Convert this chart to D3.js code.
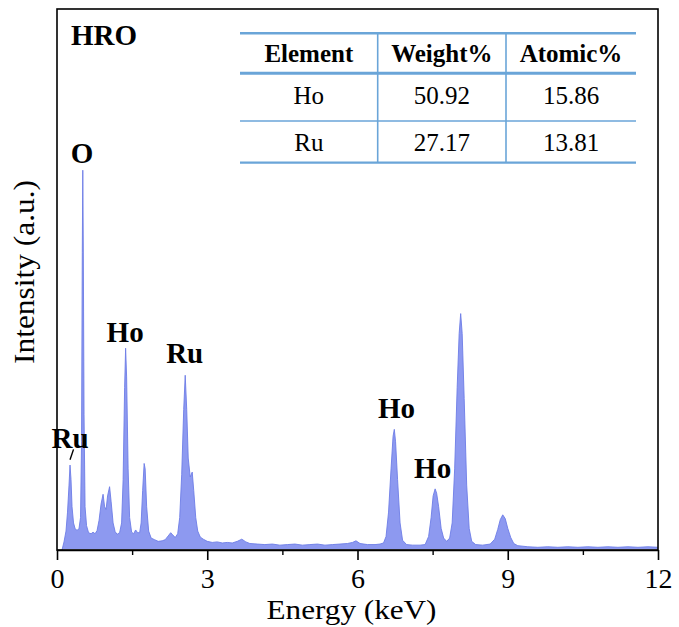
<!DOCTYPE html>
<html>
<head>
<meta charset="utf-8">
<script src="https://cdn.jsdelivr.net/npm/d3@7/dist/d3.min.js"></script>
<style>
  html,body{margin:0;padding:0;background:#fff;}
  svg{display:block;}
</style>
</head>
<body>
<svg id="chart" width="679" height="627"></svg>
<script>
// ---- Data ----
const energy = [0.10,0.14,0.18,0.21,0.24,0.26,0.28,0.30,0.33,0.36,0.40,0.44,0.47,0.49,0.505,0.515,0.525,0.54,0.56,0.59,
  0.63,0.68,0.72,0.76,0.80,0.84,0.88,0.92,0.95,0.98,1.01,1.05,1.08,1.12,1.16,1.20,1.25,1.29,1.32,1.35,
  1.37,1.39,1.42,1.45,1.49,1.53,1.57,1.61,1.65,1.68,1.71,1.74,1.76,1.79,1.83,1.88,1.95,2.02,2.10,2.16,
  2.22,2.27,2.31,2.36,2.41,2.45,2.49,2.53,2.56,2.59,2.62,2.66,2.70,2.73,2.77,2.81,2.86,2.92,3.00,3.10,
  3.20,3.30,3.40,3.50,3.60,3.69,3.77,3.85,4.00,4.15,4.30,4.45,4.60,4.75,4.90,5.05,5.20,5.35,5.50,5.65,
  5.80,5.90,5.97,6.05,6.20,6.35,6.45,6.52,6.57,6.62,6.67,6.71,6.735,6.76,6.80,6.85,6.90,6.98,7.10,7.25,
  7.35,7.42,7.47,7.51,7.55,7.58,7.62,7.67,7.72,7.78,7.84,7.89,7.94,7.99,8.03,8.06,8.09,8.13,8.18,8.23,
  8.28,8.36,8.50,8.65,8.74,8.80,8.85,8.90,8.95,9.00,9.06,9.12,9.20,9.40,9.60,9.80,10.0,10.2,10.4,10.6,
  10.8,11.0,11.2,11.4,11.6,11.8,12.0];
const intensity = [0,1.5,3.5,7,12,15.7,13,8,5,4,3.6,4.0,6,20,55,70.2,56,25,8,4.5,
  3.2,3.0,3.3,3.0,3.6,5.5,8.5,10.3,8,7.5,10,11.7,9,5,3.4,2.9,3.2,5,13,30,
  37.3,32,15,6,3.3,3.0,3.7,3.2,3.2,5,11,16,15,8,3.5,2.2,1.9,1.6,1.7,1.9,
  2.6,3.2,2.8,2.3,3.0,6,14,26,32.3,26,17,13.5,14.4,11,6,3.5,2.4,2.0,1.6,1.4,
  1.5,1.3,1.4,1.3,1.6,2.0,1.5,1.2,1.1,1.0,1.1,0.9,1.0,1.1,0.9,1.0,1.1,0.9,1.0,1.1,
  1.2,1.4,1.7,1.2,1.0,1.0,1.1,1.3,2.5,7,15,21,22.3,20,13,5,1.8,1.0,0.9,0.9,
  1.0,2.5,6,10,11.3,10.5,8,4,2.2,1.6,2.2,5,15,30,40,43.7,40,28,12,4,
  1.6,1.0,0.9,1.1,2,3.8,5.6,6.5,5.8,4,2.3,1.2,0.8,0.6,0.5,0.6,0.5,0.6,0.5,0.6,
  0.5,0.6,0.5,0.6,0.5,0.6,0.5];

const xTicks = [0,3,6,9,12];
const xMinorTicks = [1.5,4.5,7.5,10.5];

const peakLabels = ["O","Ho","Ru","Ru","Ho","Ho"];
const peakLabelEnergy = [0.50,1.36,2.55,0.26,6.78,7.50];
const peakLabelIntensity = [71.5,38.5,34.5,18.8,24.4,13.3];

const tableHeader = ["Element","Weight%","Atomic%"];
const tableElements = ["Ho","Ru"];
const tableWeight = ["50.92","27.17"];
const tableAtomic = ["15.86","13.81"];

// ---- Layout ----
const FONT = "Liberation Serif";
const svg = d3.select("#chart");
const L = 57, R = 658, T = 9, B = 550;
const x = d3.scaleLinear().domain([0,12]).range([L,R]);
const y = d3.scaleLinear().domain([0,100]).range([B,T]);

const pts = energy.map((e,i)=>[e,intensity[i]]);

// filled spectrum
svg.append("path")
  .datum(pts)
  .attr("d", d3.area().x(d=>x(d[0])).y0(y(0.2)).y1(d=>y(d[1])))
  .attr("fill","#8d99f0");
svg.append("path")
  .datum(pts)
  .attr("d", d3.line().x(d=>x(d[0])).y(d=>y(d[1])))
  .attr("fill","none").attr("stroke","#6d7de6").attr("stroke-width",0.9);

// frame
svg.append("rect").attr("x",L).attr("y",T).attr("width",R-L).attr("height",B-T)
  .attr("fill","none").attr("stroke","#000").attr("stroke-width",1.6);

// x axis
const xAxis = d3.axisBottom(x).tickValues(xTicks).tickSize(10).tickSizeOuter(0).tickFormat(d3.format("d"));
const gx = svg.append("g").attr("transform",`translate(0,${B})`).call(xAxis).attr("font-family",FONT);
gx.select(".domain").attr("stroke","#000").attr("stroke-width",1.6);
gx.selectAll(".tick line").attr("stroke","#000").attr("stroke-width",1.6);
gx.selectAll(".tick text").attr("font-family",FONT).attr("font-size",28).attr("fill","#000").attr("y",38).attr("dy","0");
const gxm = svg.append("g").attr("transform",`translate(0,${B})`)
  .call(d3.axisBottom(x).tickValues(xMinorTicks).tickSize(5).tickSizeOuter(0).tickFormat(""));
gxm.select(".domain").remove();
gxm.selectAll(".tick line").attr("stroke","#000").attr("stroke-width",1.4);

// axis titles
svg.append("text").attr("x",(L+R)/2-6).attr("y",619).attr("text-anchor","middle").attr("font-family",FONT)
  .attr("font-size",27).attr("textLength",170).attr("lengthAdjust","spacingAndGlyphs").text("Energy (keV)");
svg.append("text").attr("transform",`translate(34,${272}) rotate(-90)`).attr("text-anchor","middle").attr("font-family",FONT)
  .attr("font-size",29).attr("textLength",184).attr("lengthAdjust","spacingAndGlyphs").text("Intensity (a.u.)");

// title HRO
svg.append("text").attr("x",71).attr("y",45).attr("font-family",FONT).attr("font-size",29).attr("font-weight","bold").text("HRO");

// peak labels
svg.selectAll("text.peak").data(peakLabels).enter().append("text").attr("class","peak")
  .attr("x",(d,i)=>x(peakLabelEnergy[i])).attr("y",(d,i)=>y(peakLabelIntensity[i])).attr("font-family",FONT)
  .attr("text-anchor","middle").attr("font-size",29).attr("font-weight","bold").text(d=>d);
// small pointer under the low-energy Ru label
svg.append("line").attr("x1",x(0.33)).attr("y1",y(18.6)).attr("x2",x(0.26)).attr("y2",y(16.7))
  .attr("stroke","#000").attr("stroke-width",1.4);

// table
const tx = [240,377.7,506,636];
const ty = [33.3,73.3,121,162.7];
const lineCol = "#6aa5d8";
const tg = svg.append("g");
tg.append("line").attr("x1",tx[0]).attr("x2",tx[3]).attr("y1",ty[0]).attr("y2",ty[0]).attr("stroke",lineCol).attr("stroke-width",2.5);
tg.append("line").attr("x1",tx[0]).attr("x2",tx[3]).attr("y1",ty[1]).attr("y2",ty[1]).attr("stroke",lineCol).attr("stroke-width",3);
tg.append("line").attr("x1",tx[0]).attr("x2",tx[3]).attr("y1",ty[2]).attr("y2",ty[2]).attr("stroke",lineCol).attr("stroke-width",1.6);
tg.append("line").attr("x1",tx[0]).attr("x2",tx[3]).attr("y1",ty[3]).attr("y2",ty[3]).attr("stroke",lineCol).attr("stroke-width",2.2);
[tx[1],tx[2]].forEach(v=>tg.append("line").attr("x1",v).attr("x2",v).attr("y1",ty[0]).attr("y2",ty[3]).attr("stroke",lineCol).attr("stroke-width",1.6));
const cx = [(tx[0]+tx[1])/2,(tx[1]+tx[2])/2,(tx[2]+tx[3])/2];
tableHeader.forEach((h,i)=>tg.append("text").attr("x",cx[i]).attr("y",62).attr("text-anchor","middle").attr("font-family",FONT)
  .attr("font-size",25).attr("font-weight","bold").text(h));
tableElements.forEach((el,r)=>{
  const by = [104,151][r];
  [el,tableWeight[r],tableAtomic[r]].forEach((v,i)=>tg.append("text").attr("x",cx[i]).attr("y",by).attr("font-family",FONT)
    .attr("text-anchor","middle").attr("font-size",25).text(v));
});
</script>
</body>
</html>
